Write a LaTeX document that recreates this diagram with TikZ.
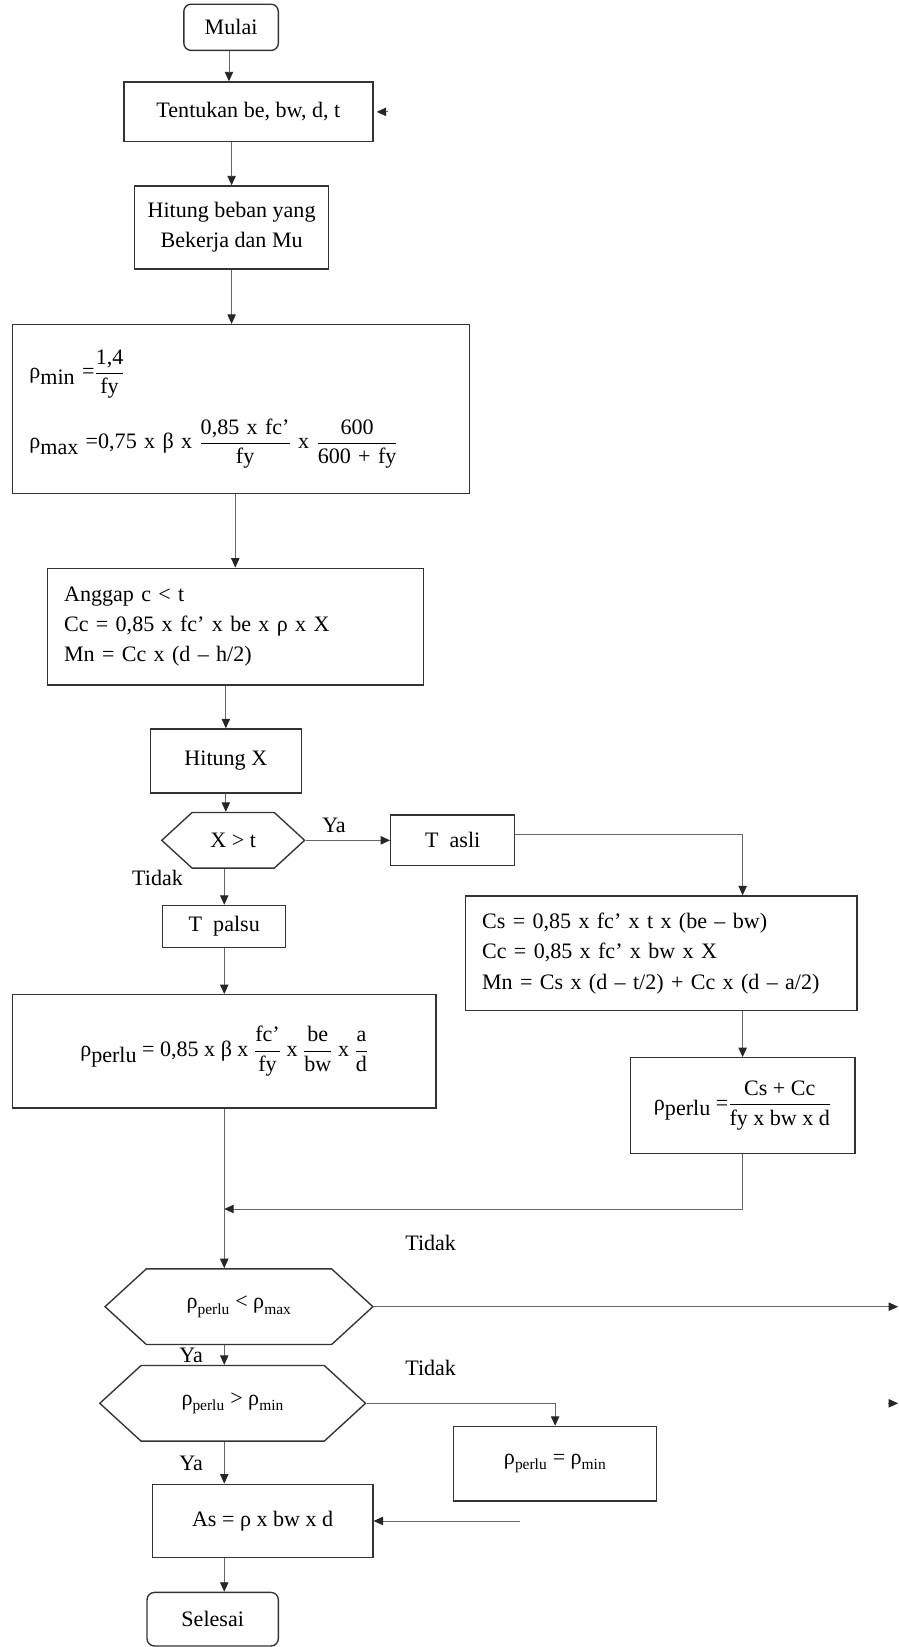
\documentclass[tikz,border=0pt]{standalone}
\usepackage{fontspec}
\setmainfont{Liberation Serif}
\usepackage{amsmath}
\usetikzlibrary{arrows.meta,shapes.symbols,calc}
\newcommand{\fr}[2]{\ensuremath{\dfrac{\text{#1}}{\text{#2}}}}
\newcommand{\rb}[1]{ρ\raisebox{-0.55ex}{#1}}
\newcommand{\rs}[1]{\ensuremath{\text{ρ}_{\text{#1}}}}
\begin{document}
\begin{tikzpicture}[x=1pt,y=-1pt,
  font=\fontsize{21}{29}\selectfont,
  box/.style={draw=black!80, line width=1.3pt, inner sep=0pt, align=center},
  lbox/.style={box, align=left, inner xsep=16pt},
  term/.style={box, rounded corners=7pt},
  hex/.style={draw=black!80, line width=1.3pt, shape=signal, signal to=west and east,
              signal pointer angle=85, inner sep=0pt},
  line/.style={draw=black!60, line width=0.9pt},
  arr/.style={line, -{Triangle[length=9pt,width=8pt,color=black!85]}},
  lbl/.style={inner sep=0pt}
]
\useasboundingbox (0,0) rectangle (855,1568);

% --- main column
\node[term, minimum width=90pt, minimum height=44pt] (mulai) at (220,26) {Mulai};
\node[box, minimum width=237pt, minimum height=57pt] (tent) at (236.5,106.5) {Tentukan be, bw, d, t};
\node[box, minimum width=185pt, minimum height=79pt] (beban) at (220.5,216.5) {Hitung beban yang\\Bekerja dan Mu};
\node[lbox, minimum width=435pt, minimum height=161pt, text width=403pt] (rho) at (229.5,389.5)
  {\rb{min} =\fr{1,4}{fy}\\[18pt]
   \rb{max} =0,75 x β x \fr{0,85 x fc’}{fy} x \fr{600}{600 + fy}};
\node[lbox, minimum width=358pt, minimum height=111pt, text width=326pt] (anggap) at (224,596.5)
  {Anggap c < t\\Cc = 0,85 x fc’ x be x ρ x X\\Mn = Cc x (d – h/2)};
\node[box, minimum width=144pt, minimum height=61pt] (hitx) at (215,724.5) {Hitung X};
\node[hex, minimum width=136pt, minimum height=53pt] (hex1) at (222,800) {X > t};

% --- right branch
\node[box, minimum width=118pt, minimum height=48pt] (tasli) at (431,800) {T\ \ asli};
\node[lbox, minimum width=373pt, minimum height=109pt, text width=341pt] (cs) at (629.5,907.5)
  {Cs = 0,85 x fc’ x t x (be – bw)\\Cc = 0,85 x fc’ x bw x X\\Mn = Cs x (d – t/2) + Cc x (d – a/2)};
\node[box, minimum width=214pt, minimum height=91pt] (rhoR) at (707,1052.5)
  {\rb{perlu} =\fr{Cs + Cc}{fy x bw x d}};

% --- left branch
\node[box, minimum width=117pt, minimum height=40pt] (tpalsu) at (213.5,882) {T\ \ palsu};
\node[box, minimum width=403pt, minimum height=108pt] (rhoL) at (213.5,1001)
  {\rb{perlu} = 0,85 x β x \fr{fc’}{fy} x \fr{be}{bw} x \fr{a}{d}};

% --- checks
\node[hex, minimum width=255pt, minimum height=72pt] (hex2) at (227.5,1244) {\rs{perlu} < \rs{max}};
\node[hex, minimum width=253pt, minimum height=72pt] (hex3) at (221.5,1336) {\rs{perlu} > \rs{min}};
\node[box, minimum width=193pt, minimum height=71pt] (rmin) at (528.5,1393.5) {\rs{perlu} = \rs{min}};
\node[box, minimum width=210pt, minimum height=70pt] (as) at (250,1448) {As = ρ x bw x d};
\node[term, minimum width=125pt, minimum height=51pt] (selesai) at (202.5,1541.5) {Selesai};

% --- labels
\node[lbl] (lya1) at (318,786) {Ya};
\node[lbl] (ltd1) at (150,836) {Tidak};
\node[lbl] (ltd2) at (410,1183) {Tidak};
\node[lbl] (lya2) at (182,1290) {Ya};
\node[lbl] (ltd3) at (410,1302) {Tidak};
\node[lbl] (lya3) at (182,1393) {Ya};

% --- free ends
\coordinate (top1) at (218,47);
\coordinate (top2) at (218,78);
\coordinate (loopin) at (369,106.5);
\coordinate (merge) at (213.5,1151);
\coordinate (out1) at (855,1244);
\coordinate (stubA) at (845,1336);
\coordinate (stubB) at (855,1336);
\coordinate (asin) at (495,1448);

% --- connectors
\draw[arr] (mulai.south -| top1) -- (tent.north -| top2);
\draw[arr, shorten >=3pt] (loopin) -- (tent.east);
\draw[arr] (tent.south -| beban.north) -- (beban.north);
\draw[arr] (beban.south) -- (beban.south |- rho.north);
\draw[arr] (rho.south -| anggap.north) -- (anggap.north);
\draw[arr] (anggap.south -| hitx.north) -- (hitx.north);
\draw[arr] (hitx.south) -- (hitx.south |- hex1.north);
\draw[arr] (hex1.east) -- (tasli.west);
\draw[arr] ([yshift=6pt]tasli.east) -| (cs.north -| rhoR.north);
\draw[arr] (cs.south -| rhoR.north) -- (rhoR.north);
\draw[arr] (rhoR.south) |- (merge);
\draw[arr] (hex1.south -| tpalsu.north) -- (tpalsu.north);
\draw[arr] (tpalsu.south) -- (rhoL.north);
\draw[arr] (rhoL.south) -- (rhoL.south |- hex2.north);
\draw[arr] (hex2.east) -- (out1);
\draw[arr] (hex2.south -| rhoL.south) -- (hex3.north -| rhoL.south);
\draw[arr] (hex3.east) -| (rmin.north);
\draw[arr] (stubA) -- (stubB);
\draw[arr] (hex3.south -| rhoL.south) -- (as.north -| rhoL.south);
\draw[arr] (asin) -- (as.east);
\draw[arr] (as.south -| rhoL.south) -- (selesai.north -| rhoL.south);
\end{tikzpicture}
\end{document}
